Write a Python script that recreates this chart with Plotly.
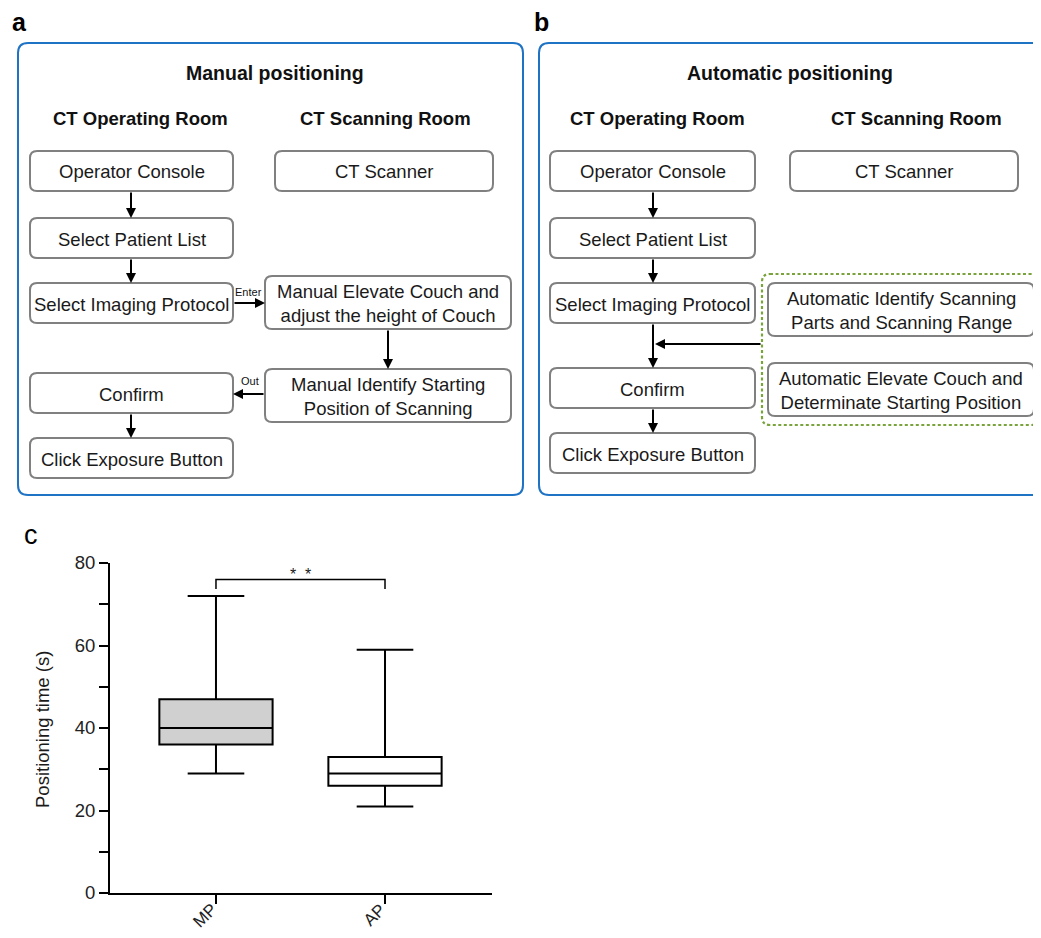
import plotly.graph_objects as go

# ---------------- data ----------------
categories = ["MP", "AP"]
upper_whisker = [72, 59]
q3_values = [47, 33]
median_values = [40, 29]
q1_values = [36, 26]
lower_whisker = [29, 21]
box_fills = ["#d0d0d0", "#ffffff"]
significance = "*  *"
y_ticks = [0, 20, 40, 60, 80]
y_minor_ticks = [10, 30, 50, 70]

panel_a_title = "Manual positioning"
panel_b_title = "Automatic positioning"
room_labels = ["CT Operating Room", "CT Scanning Room"]
panel_a_steps = ["Operator Console", "CT Scanner", "Select Patient List", "Select Imaging Protocol",
                 "Manual Elevate Couch and<br>adjust the height of Couch", "Confirm",
                 "Manual Identify Starting<br>Position of Scanning", "Click Exposure Button"]
panel_b_steps = ["Operator Console", "CT Scanner", "Select Patient List", "Select Imaging Protocol",
                 "Confirm", "Click Exposure Button",
                 "Automatic Identify Scanning<br>Parts and Scanning Range",
                 "Automatic Elevate Couch and<br>Determinate Starting Position"]

# ---------------- helpers ----------------
# page body has an 8px default margin: figure is shrunk so it fits the window exactly
OFF = 8
W, H = 1041 - 2 * OFF, 938 - 2 * OFF
FONT = "Liberation Sans, Arial, sans-serif"


def X(p):
    return (p - OFF) / W


def Y(p):
    return 1 - (p - OFF) / H


def rrect_path(x0, y0, x1, y1, r):
    return (f"M {X(x0 + r)},{Y(y0)} L {X(x1 - r)},{Y(y0)} Q {X(x1)},{Y(y0)} {X(x1)},{Y(y0 + r)} "
            f"L {X(x1)},{Y(y1 - r)} Q {X(x1)},{Y(y1)} {X(x1 - r)},{Y(y1)} "
            f"L {X(x0 + r)},{Y(y1)} Q {X(x0)},{Y(y1)} {X(x0)},{Y(y1 - r)} "
            f"L {X(x0)},{Y(y0 + r)} Q {X(x0)},{Y(y0)} {X(x0 + r)},{Y(y0)} Z")


shapes = []
annotations = []


def rbox(x0, y0, x1, y1, r=7, color="#808080", width=2, dash="solid"):
    shapes.append(dict(type="path", xref="paper", yref="paper", path=rrect_path(x0, y0, x1, y1, r),
                       line=dict(color=color, width=width, dash=dash), fillcolor="rgba(0,0,0,0)"))


def text(x, y, s, size=18, bold=False, color="#1a1a1a", xanchor="center", angle=0):
    if bold:
        s = f"<b>{s}</b>"
    annotations.append(dict(xref="paper", yref="paper", x=X(x), y=Y(y), text=s, showarrow=False,
                            font=dict(family=FONT, size=size, color=color), xanchor=xanchor,
                            yanchor="middle", textangle=angle, align="center"))


def step(x0, y0, x1, y1, s):
    rbox(x0, y0, x1, y1)
    text((x0 + x1) / 2, (y0 + y1) / 2 + 1, s, size=18.5)


def arrow(xs, ys, xe, ye):
    annotations.append(dict(xref="paper", yref="paper", x=X(xe), y=Y(ye), ax=xs - xe, ay=ys - ye,
                            axref="pixel", ayref="pixel", text="", showarrow=True, arrowhead=2,
                            arrowsize=1, arrowwidth=2, arrowcolor="black", standoff=0, startstandoff=0))


# ---------------- panel a ----------------
text(10, 22, "a", size=25, bold=True, color="black", xanchor="left")
rbox(18, 43, 523, 495, r=10, color="#1f73c4", width=2)
text(275, 73, panel_a_title, size=19.5, bold=True, color="#111")
text(140, 119, room_labels[0], size=18.5, bold=True, color="#111")
text(385, 119, room_labels[1], size=18.5, bold=True, color="#111")
step(30, 151, 233, 191, panel_a_steps[0])
step(275, 151, 493, 191, panel_a_steps[1])
step(30, 218, 233, 258, panel_a_steps[2])
step(30, 283, 233, 323, panel_a_steps[3])
step(265, 276, 511, 329, panel_a_steps[4])
step(30, 373, 233, 413, panel_a_steps[5])
step(265, 369, 511, 422, panel_a_steps[6])
step(30, 438, 233, 478, panel_a_steps[7])
arrow(131, 191, 131, 218)
arrow(131, 258, 131, 283)
arrow(233, 303, 265, 303)
arrow(388, 329, 388, 369)
arrow(265, 394, 233, 394)
arrow(131, 413, 131, 438)
text(248, 292, "Enter", size=11, color="#111")
text(250, 381, "Out", size=11, color="#111")

# ---------------- panel b ----------------
text(532, 22, "b", size=25, bold=True, color="black", xanchor="left")
rbox(539, 43, 1060, 495, r=10, color="#1f73c4", width=2)
text(790, 73, panel_b_title, size=19.5, bold=True, color="#111")
text(657, 119, room_labels[0], size=18.5, bold=True, color="#111")
text(916, 119, room_labels[1], size=18.5, bold=True, color="#111")
step(550, 151, 755, 191, panel_b_steps[0])
step(790, 151, 1018, 191, panel_b_steps[1])
step(550, 218, 755, 258, panel_b_steps[2])
step(550, 283, 755, 323, panel_b_steps[3])
step(550, 368, 755, 408, panel_b_steps[4])
step(550, 433, 755, 473, panel_b_steps[5])
rbox(762, 274, 1039, 425, r=8, color="#7aa33c", width=2.2, dash="3px,2.5px")
step(768, 283, 1034, 336, panel_b_steps[6])
step(768, 363, 1034, 416, panel_b_steps[7])
arrow(653, 191, 653, 218)
arrow(653, 258, 653, 283)
arrow(653, 323, 653, 368)
arrow(653, 408, 653, 433)
arrow(762, 344, 655, 344)

# ---------------- panel c ----------------
text(22, 535, "c", size=27, color="black", xanchor="left")
annotations.append(dict(xref="paper", yref="paper", x=X(42), y=Y(730), text="Positioning time (s)",
                        showarrow=False, textangle=-90, font=dict(family=FONT, size=18.5, color="#1a1a1a"),
                        xanchor="center", yanchor="middle"))

fig = go.Figure()
for i, cat in enumerate(categories):
    fig.add_trace(go.Box(x=[cat], q1=[q1_values[i]], median=[median_values[i]], q3=[q3_values[i]],
                         lowerfence=[lower_whisker[i]], upperfence=[upper_whisker[i]],
                         fillcolor=box_fills[i], line=dict(color="black", width=2),
                         width=0.67, whiskerwidth=0.5, boxpoints=False, showlegend=False,
                         hoverinfo="skip"))
    # rotated category label, kept fully inside the page
    annotations.append(dict(xref="x", yref="paper", x=cat, y=Y(915), xshift=-11, text=cat,
                            showarrow=False, textangle=-45, xanchor="center", yanchor="middle",
                            font=dict(family=FONT, size=17, color="#222")))

bracket_top = 76
bracket_leg = 73.7
shapes.append(dict(type="path", xref="x", yref="y",
                   path=f"M 0,{bracket_leg} L 0,{bracket_top} L 1,{bracket_top} L 1,{bracket_leg}",
                   line=dict(color="black", width=1.5)))
annotations.append(dict(xref="x", yref="y", x=0.5, y=bracket_top, text=significance, showarrow=False,
                        yanchor="bottom", font=dict(family=FONT, size=16, color="#1a1a1a"), yshift=-5))

fig.update_layout(
    width=W, height=H, margin=dict(l=0, r=0, t=0, b=0, autoexpand=False),
    paper_bgcolor="white", plot_bgcolor="white",
    font=dict(family=FONT, color="#1a1a1a"),
    shapes=shapes, annotations=annotations,
    xaxis=dict(domain=[X(110), X(492)], type="category", range=[-0.627, 1.633], automargin=False,
               showline=True, linecolor="black", linewidth=2, ticks="outside", ticklen=9,
               tickwidth=2, tickcolor="black", showticklabels=False,
               showgrid=False, zeroline=False, fixedrange=True),
    yaxis=dict(domain=[Y(893), Y(563)], range=[0, 80], tickvals=y_ticks, automargin=False,
               showline=True, linecolor="black", linewidth=2, ticks="outside", ticklen=9,
               tickwidth=2, tickcolor="black", tickfont=dict(size=18.5, color="#222"),
               minor=dict(tickvals=y_minor_ticks, ticks="outside", ticklen=9, tickwidth=2,
                          tickcolor="black", showgrid=False),
               showgrid=False, zeroline=False, fixedrange=True),
)

fig.write_html("out.html")
